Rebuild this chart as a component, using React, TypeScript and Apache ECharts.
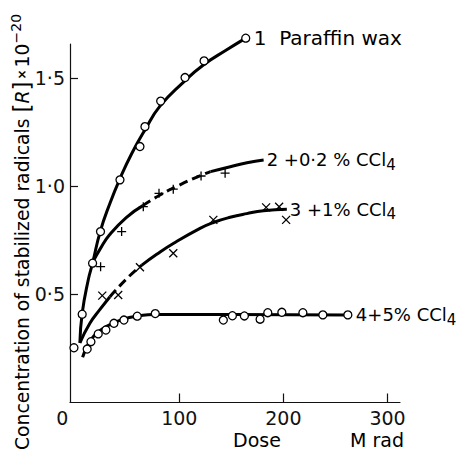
import React, { useEffect, useRef } from 'react';
import * as echarts from 'echarts';

const FONT = 'DejaVu Sans';

// x tick values / labels
const xLabelValues = [0, 100, 200, 300];
const xTickValues = [100, 200, 300];
const yTickValues = [0.5, 1.0, 1.5];

// Curve 1: paraffin wax (fitted curve)
const curve1 = [
  [4.5, 0.276], [6.7, 0.412], [12.5, 0.566], [16.7, 0.644], [24, 0.79], [33.4, 0.921],
  [43, 1.035], [54.2, 1.15], [67, 1.26], [81.4, 1.37], [103.8, 1.48], [123.1, 1.56],
  [145.6, 1.63], [163.8, 1.684],
];
const points1 = [
  [6.7, 0.408], [16.7, 0.644], [24.3, 0.79], [43, 1.029], [62.2, 1.183], [67, 1.275],
  [82.1, 1.393], [105.5, 1.502], [123.8, 1.579], [163.8, 1.684],
];

// Curve 2: +0.2% CCl4 (solid / dashed / solid parts)
const curve2a = [[17, 0.65], [24, 0.71], [33, 0.775], [49, 0.855], [65, 0.91]];
const curve2b = [[65, 0.91], [81, 0.958], [98, 1.0], [117, 1.042], [130, 1.067]];
const curve2c = [[130, 1.067], [149, 1.09], [165, 1.108], [181, 1.121]];
const points2 = [
  [24.4, 0.628], [44.6, 0.79], [65.4, 0.905], [80.5, 0.967], [94.2, 0.986], [120.9, 1.047], [144, 1.06],
];

// Curve 3: +1% CCl4
const curve3a = [[4.5, 0.275], [14.1, 0.366], [23.8, 0.43], [33.4, 0.489]];
const curve3b = [[33.4, 0.489], [49.4, 0.572], [64, 0.635]];
const curve3c = [
  [64, 0.635], [78.3, 0.685], [94.2, 0.735], [119.9, 0.805], [132.7, 0.832],
  [148.8, 0.856], [164.8, 0.873], [180.8, 0.886], [203.3, 0.893],
];
const points3 = [
  [26, 0.494], [41.3, 0.497], [62.2, 0.625], [94.2, 0.69], [132.7, 0.844], [183.4, 0.902],
  [195.9, 0.905], [202.6, 0.844],
];

// Curve 4: +5% CCl4
const curve4 = [
  [7.1, 0.209], [17.3, 0.304], [30.2, 0.352], [46.2, 0.385], [62.2, 0.401], [75, 0.407],
  [150, 0.407], [261.9, 0.405],
];
const points4 = [
  [-1.2, 0.253], [11.5, 0.247], [15.1, 0.281], [22.1, 0.317], [29.5, 0.335], [37.2, 0.366],
  [46.8, 0.381], [59.6, 0.399], [76.9, 0.411], [142.3, 0.381], [151, 0.401], [162.5, 0.4],
  [177.6, 0.385], [185, 0.415], [198.5, 0.417], [218.7, 0.415], [237.9, 0.405], [261.9, 0.405],
];

const labelText1 = '1  Paraffin wax';
const labelText2 = '2 +0·2 % CCl{s|4}';
const labelText3 = '3 +1% CCl{s|4}';
const labelText4 = '4+5% CCl{s|4}';

const labelRich = {
  s: { fontSize: 15, fontFamily: FONT, color: '#000', padding: [10, 0, 0, 0] },
};

function curve(data: number[][], dashed: boolean, endLabel?: string, dist = 4, size = 18): any {
  const s: any = {
    type: 'line',
    data,
    symbol: 'none',
    showSymbol: false,
    smooth: 0.5,
    clip: false,
    silent: true,
    z: 2,
    lineStyle: { color: '#000', width: 3, type: dashed ? [9, 5] : 'solid', cap: 'butt' },
  };
  if (endLabel) {
    s.endLabel = {
      show: true,
      formatter: endLabel,
      distance: dist,
      color: '#000',
      fontFamily: FONT,
      fontSize: size,
      rich: labelRich,
    };
  }
  return s;
}

const circleStyle = { color: '#fff', borderColor: '#000', borderWidth: 1.3, opacity: 1 };
const strokeStyle = { color: 'rgba(0,0,0,0)', borderColor: '#000', borderWidth: 1.3, opacity: 1 };

function marks(data: number[][], symbol: string, size: number, style: any): any {
  return {
    type: 'scatter',
    data,
    symbol,
    symbolSize: size,
    clip: false,
    silent: true,
    z: 5,
    itemStyle: style,
  };
}

export default function App() {
  const ref = useRef<HTMLDivElement>(null);
  useEffect(() => {
    const chart = echarts.init(ref.current as HTMLDivElement, null, { renderer: 'svg' });
    const option: any = {
      animation: false,
      backgroundColor: '#fff',
      grid: { left: 70, right: 61, top: 44, bottom: 49.5, containLabel: false, outerBoundsMode: 'none' },
      xAxis: {
        type: 'value',
        min: -5,
        max: 312,
        axisLine: { show: true, onZero: false, lineStyle: { color: '#111', width: 1.2 } },
        axisTick: { show: true, inside: true, length: 9, customValues: xTickValues, lineStyle: { color: '#111', width: 1.2 } },
        axisLabel: {
          customValues: xLabelValues,
          margin: 6,
          color: '#111',
          fontFamily: FONT,
          fontSize: 19,
          formatter: (v: number) => (v === 0 ? '{z|0}' : String(v)),
          rich: { z: { fontFamily: FONT, fontSize: 19, color: '#111', padding: [0, 26, 0, 0] } },
        },
        splitLine: { show: false },
      },
      yAxis: {
        type: 'value',
        min: 0,
        max: 1.657,
        axisLine: { show: true, onZero: false, lineStyle: { color: '#111', width: 1.2 } },
        axisTick: { show: true, inside: true, length: 8, customValues: yTickValues, lineStyle: { color: '#111', width: 1.2 } },
        axisLabel: {
          customValues: yTickValues,
          margin: 5,
          color: '#111',
          fontFamily: FONT,
          fontSize: 19,
          formatter: (v: number) => v.toFixed(1).replace('.', '·'),
        },
        splitLine: { show: false },
      },
      graphic: [
        {
          type: 'text',
          x: 22,
          y: 232,
          rotation: Math.PI / 2,
          silent: true,
          style: {
            text: 'Concentration of stabilized radicals {b|[}{i|R}{b|]}{x|×}10{sup|−20}',
            fontFamily: FONT,
            fontSize: 18.8,
            fill: '#000',
            align: 'center',
            verticalAlign: 'middle',
            textAlign: 'center',
            textVerticalAlign: 'middle',
            rich: {
              b: { fontFamily: FONT, fontSize: 23, fill: '#000', color: '#000' },
              i: { fontFamily: FONT, fontSize: 18.8, fontStyle: 'italic', fill: '#000', color: '#000' },
              x: { fontFamily: FONT, fontSize: 12, fontWeight: 'bold', fill: '#000', color: '#000', padding: [0, 2, 0, 2] },
              sup: { fontFamily: FONT, fontSize: 14, fill: '#000', color: '#000', padding: [0, 0, 12, 0] },
            },
          },
        },
        {
          type: 'text',
          x: 257,
          y: 440,
          silent: true,
          style: { text: 'Dose', fontFamily: FONT, fontSize: 19, fill: '#000', align: 'center', verticalAlign: 'middle', textAlign: 'center', textVerticalAlign: 'middle' },
        },
        {
          type: 'text',
          x: 377,
          y: 440,
          silent: true,
          style: { text: 'M rad', fontFamily: FONT, fontSize: 19, fill: '#000', align: 'center', verticalAlign: 'middle', textAlign: 'center', textVerticalAlign: 'middle' },
        },
      ],
      series: [
        curve(curve1, false, labelText1, 8, 20),
        curve(curve2a, false),
        curve(curve2b, true),
        curve(curve2c, false, labelText2, 3),
        curve(curve3a, false),
        curve(curve3b, true),
        curve(curve3c, false, labelText3, 3),
        curve(curve4, false, labelText4, 8),
        marks(points1, 'circle', 8, circleStyle),
        marks(points2, 'path://M0,5L10,5M5,0L5,10', 9, strokeStyle),
        marks(points3, 'path://M0,0L10,10M10,0L0,10', 8, strokeStyle),
        marks(points4, 'circle', 8, circleStyle),
      ],
    };
    chart.setOption(option);
    return () => chart.dispose();
  }, []);
  return (
    <div
      ref={ref}
      style={{ position: 'fixed', left: 0, top: 0, width: 461, height: 452, background: '#fff' }}
    />
  );
}
